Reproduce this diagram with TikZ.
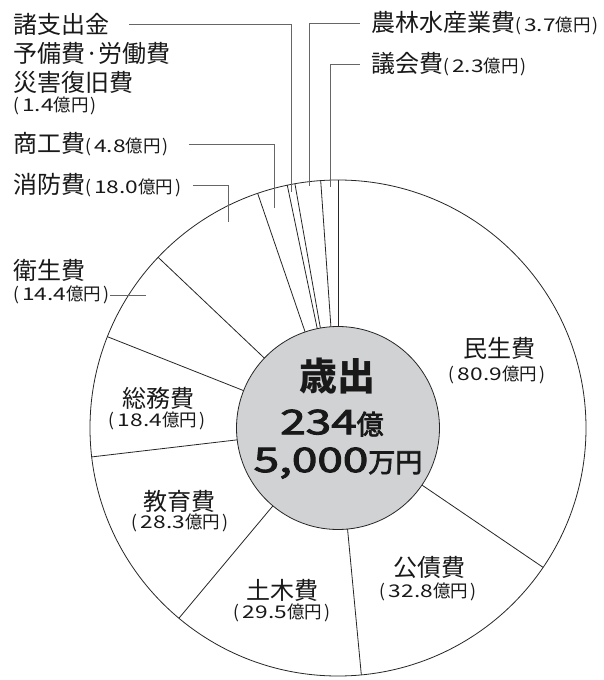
\documentclass[tikz,border=0pt]{standalone}
\usepackage{fontspec}
\setmainfont{Noto Sans CJK JP}
\newfontfamily\midjp[FakeBold=2.5]{Noto Sans CJK JP}
\usepackage{graphicx}
\usepackage{tikz}
\usetikzlibrary{calc}

\definecolor{centergray}{RGB}{209,210,212}
\newcommand{\amtfont}{\fontsize{17.5}{20}\selectfont}
\newcommand{\okuen}[1]{(\kern3pt\scalebox{1.3}[1]{#1}億円\kern2pt)}
\newcommand{\digs}[1]{\scalebox{1.35}[1]{\fontsize{34}{36}\selectfont #1}}

\tikzset{
	lbl/.style={inner sep=0pt, text=black!90, font=\fontsize{24}{28}\selectfont},
	amt/.style={inner sep=0pt, text=black!90, font=\amtfont},
	leader/.style={draw=black!60, line width=0.9pt},
	slice/.style={draw=black!85, line width=0.8pt}
}

\begin{document}
\begin{tikzpicture}[x=1pt,y=1pt]
	\useasboundingbox[fill=white] (-338,-252) rectangle (265,428);
	\draw[slice] (0,0) circle (248);
	\path[slice] (90:101) edge (90:248)
		(94:101) edge (94:248)
		(100:101) edge (100:248)
		(101.8:101) edge (101.8:248)
		(108.9:101) edge (108.9:248)
		(136.5:101) edge (136.5:248)
		(158.4:101) edge (158.4:248)
		(186.7:101) edge (186.7:248)
		(230.1:101) edge (230.1:248)
		(275.4:101) edge (275.4:248)
		(325.8:101) edge (325.8:248);
	\draw[slice, fill=centergray] (0,0) circle (101.5);
%
	\node[inner sep=0pt, text=black!90, font=\fontsize{38}{40}\selectfont\bfseries] (sai) at (0,52) {歳出};
	\node[inner sep=0pt, text=black!90, font=\midjp\fontsize{27}{30}\selectfont] (oku) at (-6,5) {\digs{234}億};
	\node[inner sep=0pt, text=black!90, font=\midjp\fontsize{27}{30}\selectfont] (man) at (0,-35) {\digs{5,000}万円};
%
	\node[lbl] (minsei) at (161,80) {民生費};
	\node[amt] (minseiv) at (159,53) {\okuen{80.9}};
	\node[lbl] (kosai) at (92,-139) {公債費};
	\node[amt] (kosaiv) at (90,-164) {\okuen{32.8}};
	\node[lbl] (doboku) at (-55,-162) {土木費};
	\node[amt] (dobokuv) at (-56,-185) {\okuen{29.5}};
	\node[lbl] (kyoiku) at (-158,-73) {教育費};
	\node[amt] (kyoikuv) at (-158,-95) {\okuen{28.3}};
	\node[lbl] (somu) at (-179,30) {総務費};
	\node[amt] (somuv) at (-181,7) {\okuen{18.4}};
%
	\node[lbl, anchor=west] (shoshi) at (-325,404) {諸支出金};
	\node[lbl, anchor=west] (yobi) at (-325,375) {予備費·労働費};
	\node[lbl, anchor=west] (saigai) at (-325,346) {災害復旧費};
	\node[amt, anchor=west] (shoshiv) at (-325,322) {\okuen{1.4}};
	\node[lbl, anchor=west] (shoko) at (-325,284) {商工費{\amtfont\okuen{4.8}}};
	\node[lbl, anchor=west] (shobo) at (-325,243) {消防費{\amtfont\okuen{18.0}}};
	\node[lbl, anchor=west] (eisei) at (-325,158) {衛生費};
	\node[amt, anchor=west] (eiseiv) at (-325,133) {\okuen{14.4}};
	\node[lbl, anchor=west] (norin) at (33,405) {農林水産業費{\amtfont\okuen{3.7}}};
	\node[lbl, anchor=west] (gikai) at (33,364) {議会費{\amtfont\okuen{2.3}}};
%
	\coordinate (shoshi-e) at (-47,236);
	\coordinate (shoko-e) at (-64,220);
	\coordinate (shobo-e) at (-110,206);
	\coordinate (eisei-e) at (-192,133);
	\coordinate (norin-e) at (-29,242);
	\coordinate (gikai-e) at (-8,241);
	\draw[leader] ([xshift=20pt]shoshi.east) -| (shoshi-e);
	\draw[leader] ([xshift=20pt]shoko.east) -| (shoko-e);
	\draw[leader] ([xshift=12pt]shobo.east) -| (shobo-e);
	\draw[leader] ([xshift=1pt]eiseiv.east) -- (eisei-e);
	\draw[leader] ([xshift=-11pt]norin.west) -| (norin-e);
	\draw[leader] ([xshift=-11pt]gikai.west) -| (gikai-e);
\end{tikzpicture}
\end{document}
